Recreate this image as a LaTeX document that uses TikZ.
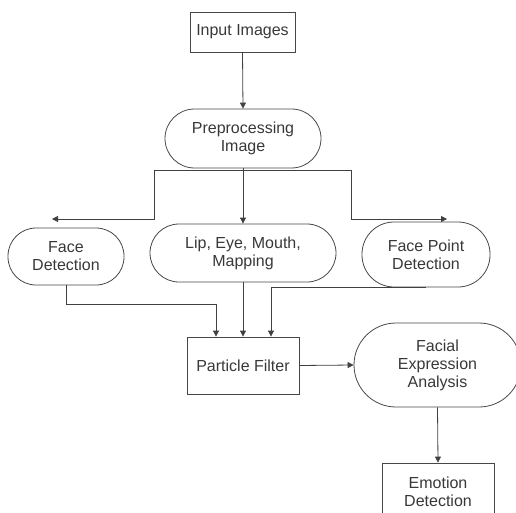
\documentclass[tikz,border=0pt]{standalone}
\usepackage{fontspec}
\setmainfont{Liberation Sans}
\usetikzlibrary{arrows.meta}
\begin{document}
\begin{tikzpicture}[x=1pt,y=-1pt,
  every node/.style={font=\fontsize{16}{18}\selectfont, text=black!78, align=center, inner sep=0pt},
  boxnode/.style={draw=black!72, line width=0.8pt, rectangle, minimum width=#1},
  pill/.style={draw=black!72, line width=0.8pt, rectangle, rounded corners=#1},
  arr/.style={draw=black!75, line width=0.8pt, -{Triangle[length=6pt,width=6pt]}},
  wire/.style={draw=black!75, line width=0.8pt}]
\useasboundingbox (0,0) rectangle (516,513);

% process steps
\node[boxnode=105, minimum height=40] (in) at (242.5,32) {Input Images};
\node[pill=29.5, minimum width=156, minimum height=59] (pre) at (243,138.5) {Preprocessing\\Image};
\node[pill=28, minimum width=116, minimum height=57] (fd) at (66,256.5) {Face\\Detection};
\node[pill=29, minimum width=186, minimum height=58] (lip) at (243,253) {Lip, Eye, Mouth,\\Mapping};
\node[pill=32, minimum width=128, minimum height=65] (fp) at (426,254.5) {Face Point\\Detection};
\node[boxnode=112, minimum height=57] (pf) at (243,365.5) {Particle Filter};
\node[pill=42, minimum width=167, minimum height=84] (fea) at (437.5,365) {Facial\\Expression\\Analysis};
\node[boxnode=112, minimum height=58] (ed) at (438,492) {Emotion\\Detection};

% branch points and free arrow ends
\coordinate (bl) at (154,170);
\coordinate (br) at (351,170);
\coordinate (fdin) at (52,219);
\coordinate (fpin) at (447,219);

% connectors
\draw[arr] (in.south) -- (pre.north);
\draw[wire] (bl) -- (br);
\draw[arr] (bl) |- (fdin);
\draw[arr] (br) |- (fpin);
\draw[arr] (pre.south) -- (lip.north);
\draw[arr] (fd.south) -- ++(0,19) -| ([xshift=-27pt]pf.north);
\draw[arr] (lip.south) -- (pf.north);
\draw[arr] (fp.south) -| ([xshift=28pt]pf.north);
\draw[arr] (pf.east) -- (fea.west);
\draw[arr] (fea.south) -- (ed.north);
\end{tikzpicture}
\end{document}
